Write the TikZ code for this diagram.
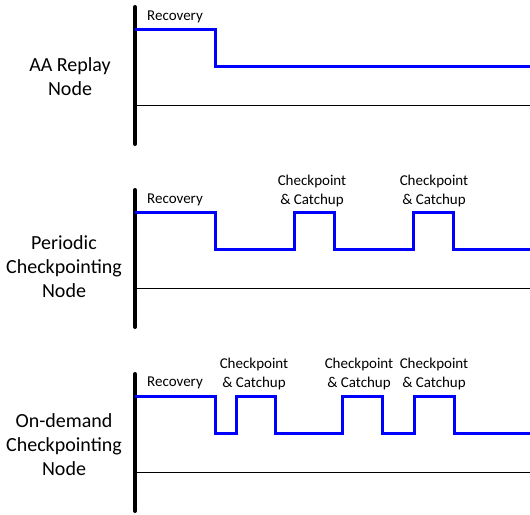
\documentclass[tikz,border=0pt]{standalone}
\usepackage{fontspec}
\setmainfont{Carlito}
\usetikzlibrary{positioning}

\begin{document}
\begin{tikzpicture}[x=1pt, y=-1pt,
	axis/.style={line width=4pt, line cap=round},
	base/.style={line width=1pt},
	signal/.style={line width=3pt, blue, line join=miter},
	phase/.style={font=\fontsize{15}{19}\selectfont, align=center, inner sep=0pt},
	nodename/.style={font=\fontsize{20}{24}\selectfont, align=center, inner sep=0pt}]

\useasboundingbox (0,0) rectangle (530,514);

% AA replay node
\node[nodename] (aa) at (70,77) {AA Replay\\Node};
\draw[axis] (135,7) -- (135,144);
\draw[base] (135,105) -- (530,105);
\draw[signal] (135,29) -| (215,66) -- (530,66);
\node[phase] (rec1) at (175,17) {Recovery};

% periodic checkpointing node
\node[nodename] (per) at (64,267) {Periodic\\Checkpointing\\Node};
\draw[axis] (135,190) -- (135,327);
\draw[base] (135,288) -- (530,288);
\draw[signal] (135,212) -| (215,249) -| (294,212) -| (334,249) -| (413,212) -| (453,249) -- (530,249);
\node[phase] (rec2) at (175,200) {Recovery};
\node[phase] (cp21) at (312,191) {Checkpoint\\\& Catchup};
\node[phase] (cp22) at (434,191) {Checkpoint\\\& Catchup};

% on-demand checkpointing node
\node[nodename] (ond) at (64,445) {On-demand\\Checkpointing\\Node};
\draw[axis] (135,374) -- (135,511);
\draw[base] (135,472) -- (530,472);
\draw[signal] (135,396) -| (215,433) -| (236,396) -| (275,433) -| (342,396) -| (382,433) -| (414,396) -| (454,433) -- (530,433);
\node[phase] (rec3) at (175,383) {Recovery};
\node[phase] (cp31) at (254,374) {Checkpoint\\\& Catchup};
\node[phase] (cp32) at (359,374) {Checkpoint\\\& Catchup};
\node[phase] (cp33) at (434,374) {Checkpoint\\\& Catchup};
\end{tikzpicture}
\end{document}
